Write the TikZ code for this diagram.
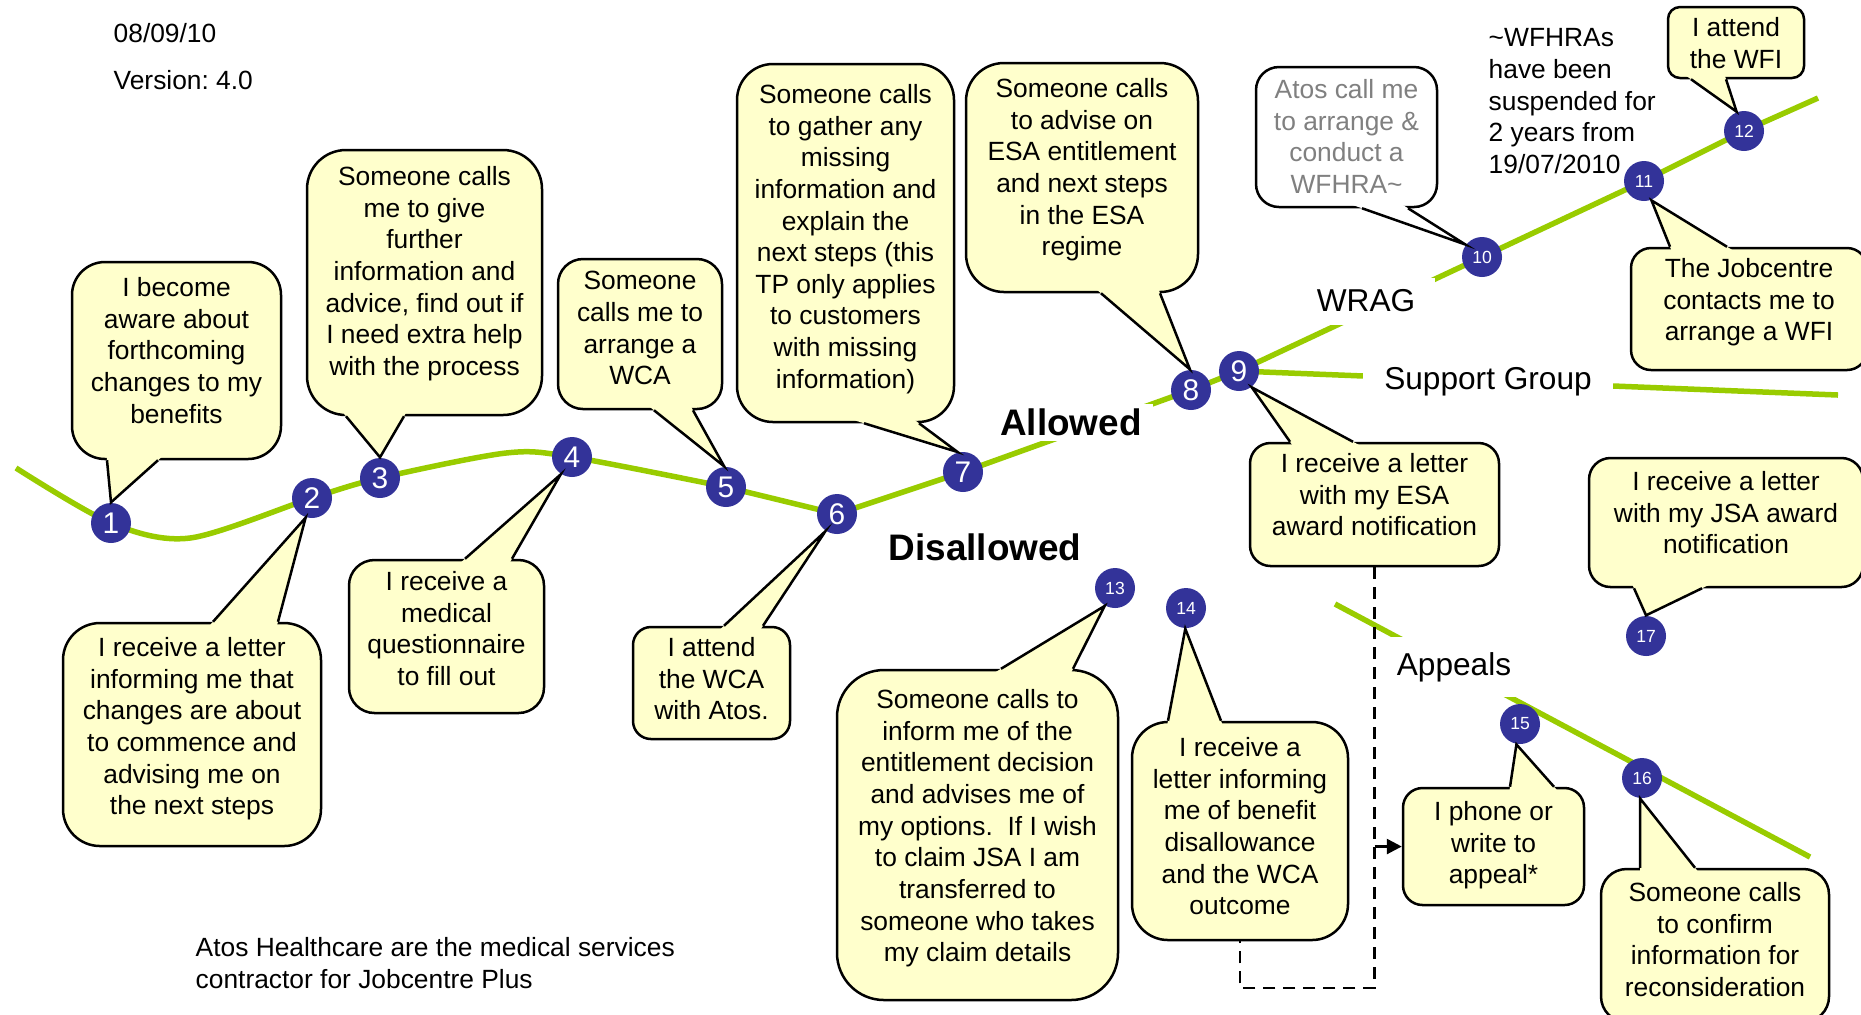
\documentclass[tikz,border=0pt]{standalone}
\usepackage{fontspec}
\setmainfont{Liberation Sans}
\usepackage{tikz}
\usetikzlibrary{positioning, calc, arrows.meta}
\definecolor{dotblue}{RGB}{51,51,153}
\definecolor{trackgreen}{RGB}{153,204,0}
\definecolor{bubblefill}{RGB}{255,255,204}
\definecolor{notegray}{RGB}{128,128,128}
\pgfdeclarelayer{bg}
\pgfsetlayers{bg,main}
\frenchspacing
\newcommand{\tail}[4][bubblefill]{%
  \fill[#1] ($#2!-1mm!#4$) -- #2 -- #4 -- #3 -- ($#3!-1mm!#4$) -- cycle;
  \draw[line width=0.25mm] #2 -- #4 -- #3;}

\begin{document}
\begin{tikzpicture}[x=0.1mm, y=-0.1mm,
  bubble/.style={draw, line width=0.25mm, fill=bubblefill, rounded corners=2.5mm, inner sep=0},
  msg/.style={align=center, inner sep=0, font=\fontsize{7.5}{9}\selectfont},
  dot/.style={circle, fill=dotblue, text=white, minimum size=4mm, inner sep=0, font=\fontsize{8.5}{8.5}\selectfont},
  smalldot/.style={dot, font=\fontsize{5}{5}\selectfont},
  track/.style={trackgreen, line width=0.55mm},
  gap/.style={fill=white, inner sep=0, font=\fontsize{9}{10}\selectfont},
  verdict/.style={gap, font=\fontsize{10.5}{12}\selectfont\bfseries},
  link/.style={line width=0.27mm, dash pattern=on 1.2mm off 0.8mm},
  remark/.style={inner sep=0, align=left, font=\fontsize{7.5}{9}\selectfont}]

  \useasboundingbox (0,0) rectangle (1861,1014);

  \node[dot] (c1) at (111,523) {1};
  \node[dot] (c2) at (312,498) {2};
  \node[dot] (c3) at (380,478) {3};
  \node[dot] (c4) at (572,457) {4};
  \node[dot] (c5) at (726,487) {5};
  \node[dot] (c6) at (837,514) {6};
  \node[dot] (c7) at (963,472) {7};
  \node[dot] (c8) at (1191,390) {8};
  \node[dot] (c9) at (1239,371) {9};
  \node[smalldot] (c10) at (1482,257) {10};
  \node[smalldot] (c11) at (1644,181) {11};
  \node[smalldot] (c12) at (1744,131) {12};
  \node[smalldot] (c13) at (1115,588) {13};
  \node[smalldot] (c14) at (1186,608) {14};
  \node[smalldot] (c15) at (1520,724) {15};
  \node[smalldot] (c16) at (1642,778) {16};
  \node[smalldot] (c17) at (1646,636) {17};

  \coordinate (waveA) at (16,468);
  \coordinate (wragB) at (1818,98);
  \coordinate (supB) at (1838,395);
  \coordinate (appA) at (1335,604);
  \coordinate (appB) at (1810,857);
  \begin{pgfonlayer}{bg}
    \draw[track] plot[smooth] coordinates {(waveA) (c1.center) (190,538) (c2.center) (c3.center) (506,453) (c4.center) (c5.center)}
      -- (c6.center) -- (c7.center) -- (c8.center) -- (c9.center) -- (c10.center) -- (c11.center) -- (c12.center) -- (wragB);
    \draw[track] (c9.center) -- (supB);
    \draw[track] (appA) -- (appB);
  \end{pgfonlayer}

  \node[verdict, minimum width=16.3mm, minimum height=3.7mm] (allowed) at (1071,422) {Allowed};
  \node[verdict, fill=none] (disallowed) at (985,547) {Disallowed};
  \node[gap, minimum width=13.8mm, minimum height=4.7mm] (wrag) at (1366,301) {WRAG};
  \node[gap, minimum width=25mm, minimum height=4mm] (support) at (1488,382) {Support Group};
  \node[gap, minimum width=13mm, minimum height=6mm] (appeals) at (1454,667) {Appeals};

  \node[remark, anchor=west] (date) at (113,33) {08/09/10};
  \node[remark, anchor=west] (version) at (113,80) {Version: 4.0};
  \node[remark, anchor=north west] (wfhra) at (1488,28) {\textasciitilde WFHRAs\\have been\\suspended for\\2 years from\\19/07/2010};
  \node[remark, anchor=north west] (footer) at (195,937) {Atos Healthcare are the medical services\\contractor for Jobcentre Plus};

  \node[bubble, minimum width=20.9mm, minimum height=19.7mm, rounded corners=3.3mm] (box1) at (176.5,360.5) {};
  \tail{([xshift=-6.95mm]box1.south)}{([xshift=-1.85mm]box1.south)}{(c1.north)}
  \node[msg, below=1.6mm of box1.north] (txt1) {I become\\aware about\\forthcoming\\changes to my\\benefits};

  \node[bubble, minimum width=25.8mm, minimum height=22.3mm, rounded corners=3.7mm] (box2) at (192,734.5) {};
  \tail{([xshift=2.1mm]box2.north)}{([xshift=8.6mm]box2.north)}{(c2.252)}
  \node[msg, below=1.5mm of box2.north] (txt2) {I receive a letter\\informing me that\\changes are about\\to commence and\\advising me on\\the next steps};

  \node[bubble, minimum width=23.5mm, minimum height=26.5mm, rounded corners=3.9mm] (box3) at (424.5,282.5) {};
  \tail{([xshift=-7.85mm]box3.south)}{([xshift=-2.05mm]box3.south)}{(c3.north)}
  \node[msg, below=1.7mm of box3.north] (txt3) {Someone calls\\me to give\\further\\information and\\advice, find out if\\I need extra help\\with the process};

  \node[bubble, minimum width=19.5mm, minimum height=15.3mm, rounded corners=2.55mm] (box4) at (446.5,636.5) {};
  \tail{([xshift=1.85mm]box4.north)}{([xshift=6.55mm]box4.north)}{(c4.237)}
  \node[msg, below=1.2mm of box4.north] (txt4) {I receive a\\medical\\questionnaire\\to fill out};

  \node[bubble, minimum width=16.4mm, minimum height=15mm, rounded corners=2.5mm] (box5) at (640,334) {};
  \tail{([xshift=1.4mm]box5.south)}{([xshift=5.3mm]box5.south)}{(c5.95)}
  \node[msg, below=1.3mm of box5.north] (txt5) {Someone\\calls me to\\arrange a\\WCA};

  \node[bubble, minimum width=15.7mm, minimum height=11.2mm, rounded corners=1.8mm] (box6) at (711.5,683) {};
  \tail{([xshift=1.25mm]box6.north)}{([xshift=5.15mm]box6.north)}{(c6.236)}
  \node[msg, below=1.1mm of box6.north] (txt6) {I attend\\the WCA\\with Atos.};

  \node[bubble, minimum width=21.7mm, minimum height=35.8mm, rounded corners=3.6mm] (box7) at (845.5,243) {};
  \tail{([xshift=1.85mm]box7.south)}{([xshift=7.35mm]box7.south)}{(c7.105)}
  \node[msg, below=2.1mm of box7.north] (txt7) {Someone calls\\to gather any\\missing\\information and\\explain the\\next steps (this\\TP only applies\\to customers\\with missing\\information)};

  \node[bubble, minimum width=23.2mm, minimum height=22.9mm, rounded corners=3.8mm] (box8) at (1082,177.5) {};
  \tail{([xshift=1.9mm]box8.south)}{([xshift=7.8mm]box8.south)}{(c8.93)}
  \node[msg, below=1.6mm of box8.north] (txt8) {Someone calls\\to advise on\\ESA entitlement\\and next steps\\in the ESA\\regime};

  \node[bubble, minimum width=24.9mm, minimum height=12.3mm, rounded corners=2.05mm] (box9) at (1374.5,504.5) {};
  \tail{([xshift=-8.45mm]box9.north)}{([xshift=-2.15mm]box9.north)}{(c9.308)}
  \node[msg, below=1.1mm of box9.north] (txt9) {I receive a letter\\with my ESA\\award notification};

  \node[bubble, fill=white, minimum width=18.1mm, minimum height=14mm, rounded corners=2.3mm] (box10) at (1346.5,137) {};
  \tail[white]{([xshift=1.55mm]box10.south)}{([xshift=6.15mm]box10.south)}{(c10.143)}
  \node[msg, text=notegray, below=1.3mm of box10.north] (txt10) {Atos call me\\to arrange \&\\conduct a\\WFHRA\textasciitilde};

  \node[bubble, minimum width=23.6mm, minimum height=12.2mm, rounded corners=2mm] (box11) at (1749,309) {};
  \tail{([xshift=-7.9mm]box11.north)}{([xshift=-2.2mm]box11.north)}{(c11.291)}
  \node[msg, below=1.1mm of box11.north] (txt11) {The Jobcentre\\contacts me to\\arrange a WFI};

  \node[bubble, minimum width=13.6mm, minimum height=7.1mm, rounded corners=1.2mm] (box12) at (1736,42.5) {};
  \tail{([xshift=-4.5mm]box12.south)}{([xshift=-1mm]box12.south)}{(c12.111)}
  \node[msg, below=1.1mm of box12.north] (txt12) {I attend\\the WFI};

  \node[bubble, minimum width=28.1mm, minimum height=33mm, rounded corners=4.7mm] (box13) at (977.5,835) {};
  \tail{([xshift=2.35mm]box13.north)}{([xshift=9.55mm]box13.north)}{(c13.240)}
  \node[msg, below=2mm of box13.north] (txt13) {Someone calls to\\inform me of the\\entitlement decision\\and advises me of\\my options.~ If I wish\\to claim JSA I am\\transferred to\\someone who takes\\my claim details};

  \node[bubble, minimum width=21.6mm, minimum height=21.8mm, rounded corners=3.6mm] (box14) at (1240,831) {};
  \tail{([xshift=-7.2mm]box14.north)}{([xshift=-1.9mm]box14.north)}{(c14.268)}
  \node[msg, below=1.6mm of box14.north] (txt14) {I receive a\\letter informing\\me of benefit\\disallowance\\and the WCA\\outcome};

  \node[bubble, minimum width=18.1mm, minimum height=11.7mm, rounded corners=1.95mm] (box15) at (1493.5,846.5) {};
  \tail{([xshift=1.65mm]box15.north)}{([xshift=6.05mm]box15.north)}{(c15.260)}
  \node[msg, below=1.4mm of box15.north] (txt15) {I phone or\\write to\\appeal*};

  \node[bubble, minimum width=22.8mm, minimum height=15.3mm, rounded corners=2.55mm] (box16) at (1715,945.5) {};
  \tail{([xshift=-7.5mm]box16.north)}{([xshift=-2mm]box16.north)}{(c16.265)}
  \node[msg, below=1.4mm of box16.north] (txt16) {Someone calls\\to confirm\\information for\\reconsideration};

  \node[bubble, minimum width=27.4mm, minimum height=12.9mm, rounded corners=2.15mm] (box17) at (1726,522.5) {};
  \tail{([xshift=-9.2mm]box17.south)}{([xshift=-2.4mm]box17.south)}{(c17.north)}
  \node[msg, below=1.4mm of box17.north] (txt17) {I receive a letter\\with my JSA award\\notification};

  \coordinate (dip) at (1240,988);
  \draw[link] (box9.south) |- (dip) -- (box14.south);
  \draw[link, -{Triangle[length=1.5mm, width=1.5mm]}] (box9.south |- box15.west) -- (box15.west);

\end{tikzpicture}
\end{document}
